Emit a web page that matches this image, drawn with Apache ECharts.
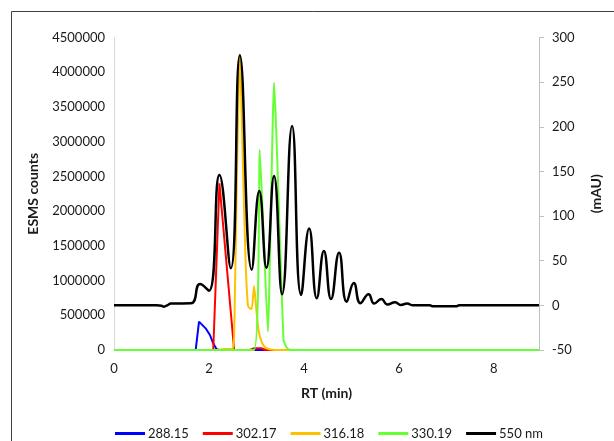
<!DOCTYPE html>
<html><head><meta charset="utf-8">
<script src="https://cdn.jsdelivr.net/npm/echarts@6/dist/echarts.min.js"></script>
<style>html,body{margin:0;padding:0;background:#fff}#c{width:614px;height:441px}</style>
</head><body><div id="c"></div>
<script>
const legendNames = ['288.15', '302.17', '316.18', '330.19', '550 nm'];
const s288 = [[0,0],[1.72,0],[1.79,408000],[1.93,312000],[2.02,216000],[2.09,96000],[2.16,12000],[2.22,0],[2.54,0],[2.57,15000],[2.61,0],[8.95,0]];
const s302 = [[0,0],[2.09,0],[2.22,2400000],[2.53,0],[2.86,0],[2.95,25000],[3.1,25000],[3.2,0],[8.95,0]];
const s316 = [[0,0],[2.2,0],[2.3,15000],[2.49,12000],[2.53,200000],[2.58,2200000],[2.65,4250000],[2.71,2800000],[2.77,1300000],[2.82,640000],[2.86,600000],[2.90,590000],[2.95,920000],[3.0,560000],[3.05,260000],[3.12,100000],[3.2,30000],[3.3,8000],[3.5,0],[8.95,0]];
const s330 = [[0,0],[2.95,0],[3.07,2880000],[3.24,264000],[3.37,3850000],[3.57,140000],[3.65,20000],[3.72,0],[8.95,0]];
const s550 = [[0,0],[0.9,0],[1.0,-0.5],[1.05,-1.5],[1.12,0],[1.2,2],[1.62,2.3],[1.81,24],[2.0,16.5],[2.22,146],[2.46,41.5],[2.65,280],[2.90,40],[3.06,128],[3.21,42],[3.37,145],[3.54,12.5],[3.75,201],[3.94,11.6],[4.11,86],[4.27,8],[4.42,61],[4.57,7],[4.74,59],[4.90,4],[5.05,25],[5.19,2.5],[5.36,12.4],[5.48,2],[5.63,7],[5.76,1],[5.92,3.5],[6.04,0.5],[6.17,2],[6.3,0],[6.65,0],[6.72,-1],[7.2,-1],[7.27,0],[8.95,0]];
const leftTicks = {min: 0, max: 4500000, interval: 500000};
const rightTicks = {min: -50, max: 300, interval: 50};
const xTicks = {min: 0, max: 8.95, interval: 2};

const font = 'Lato, "Liberation Sans", sans-serif';
const txt = '#1a1a1a';
const chart = echarts.init(document.getElementById('c'));
function line(name, data, color, w, yi, smooth) {
  return {name, type: 'line', data, yAxisIndex: yi, showSymbol: false, symbol: 'none',
    smooth: smooth, lineStyle: {color, width: w}, itemStyle: {color}, animation: false};
}
chart.setOption({
  animation: false,
  textStyle: {fontFamily: font},
  graphic: [{type: 'rect', shape: {x: 11.5, y: 11.5, width: 700, height: 500}, style: {fill: 'none', stroke: '#404040', lineWidth: 1}}],
  grid: {left: 114, right: 75, top: 37.5, bottom: 91},
  legend: {data: legendNames, left: 110, top: 422, icon: 'rect', itemWidth: 30, itemHeight: 3, itemGap: 14,
    textStyle: {fontFamily: font, fontSize: 13, color: txt, padding: [0,0,0,-2]}},
  xAxis: {type: 'value', min: xTicks.min, max: xTicks.max, interval: xTicks.interval,
    name: 'RT (min)', nameLocation: 'middle', nameGap: 36,
    nameTextStyle: {fontFamily: font, fontSize: 14, fontWeight: 'bold', color: txt},
    axisLine: {show: true, lineStyle: {color: '#d9d9d9', width: 1}}, axisTick: {show: false},
    splitLine: {show: false},
    axisLabel: {showMaxLabel: false, fontFamily: font, fontSize: 13, color: txt, margin: 12}},
  yAxis: [
    {type: 'value', min: leftTicks.min, max: leftTicks.max, interval: leftTicks.interval,
      name: 'ESMS counts', nameLocation: 'middle', nameGap: 74, nameRotate: 90,
      nameTextStyle: {fontFamily: font, fontSize: 14, fontWeight: 'bold', color: txt},
      axisLine: {show: true, lineStyle: {color: '#d9d9d9', width: 1}}, axisTick: {show: false},
      splitLine: {show: false},
      axisLabel: {fontFamily: font, fontSize: 13, color: txt, margin: 9, formatter: v => String(v)}},
    {type: 'value', position: 'right', min: rightTicks.min, max: rightTicks.max, interval: rightTicks.interval,
      name: '(mAU)', nameLocation: 'middle', nameGap: 50, nameRotate: 90,
      nameTextStyle: {fontFamily: font, fontSize: 14, fontWeight: 'bold', color: txt},
      axisLine: {show: true, lineStyle: {color: '#bfbfbf', width: 1}},
      axisTick: {show: true, length: 5, lineStyle: {color: '#bfbfbf'}},
      splitLine: {show: false},
      axisLabel: {fontFamily: font, fontSize: 13, color: txt, margin: 13, formatter: v => String(v)}}
  ],
  series: [
    line('288.15', s288, '#0000ff', 2, 0, false),
    line('302.17', s302, '#ff0000', 2, 0, false),
    line('316.18', s316, '#ffc000', 2, 0, 0.2),
    line('330.19', s330, '#66ff33', 2, 0, 0.15),
    line('550 nm', s550, '#000000', 2.5, 1, 0.5)
  ]
});
</script></body></html>
